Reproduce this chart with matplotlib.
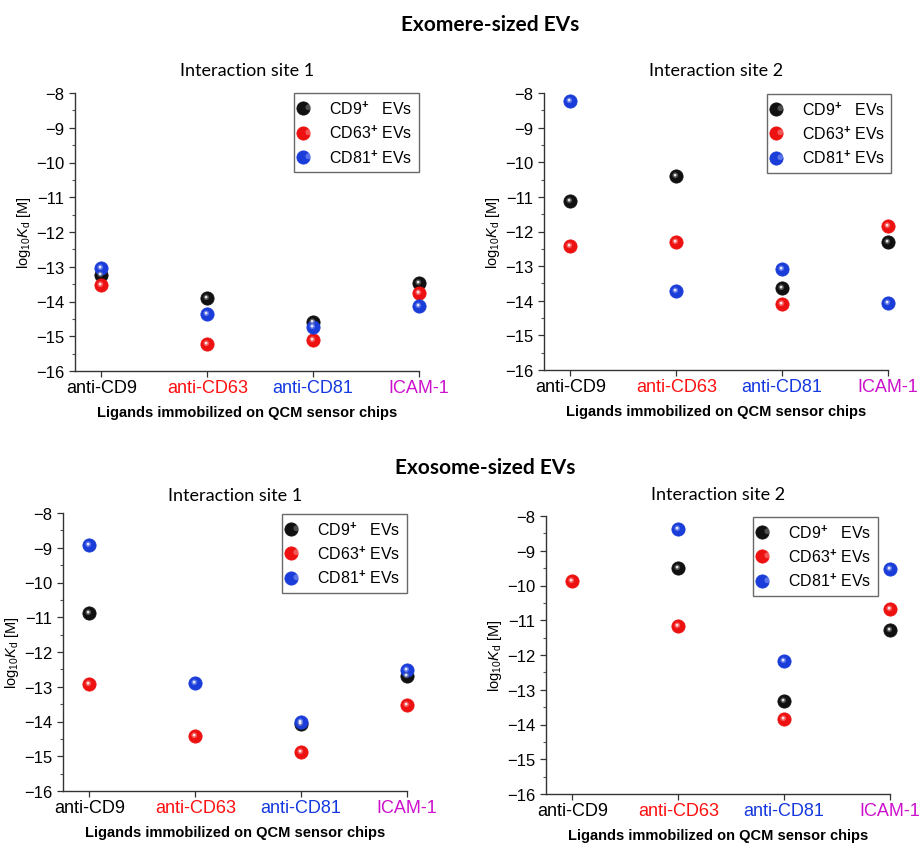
import numpy as np
import matplotlib
matplotlib.use("Agg")
import matplotlib.pyplot as plt
from matplotlib.path import Path
from matplotlib.legend_handler import HandlerTuple
from matplotlib.ticker import MultipleLocator

plt.rcParams['font.family'] = ['Liberation Sans', 'DejaVu Sans']
plt.rcParams['mathtext.fontset'] = 'custom'
plt.rcParams['mathtext.rm'] = 'Liberation Sans'
plt.rcParams['mathtext.it'] = 'Liberation Sans:italic'
plt.rcParams['mathtext.bf'] = 'Liberation Sans:bold'

# ligands on the x axis and their label colours
ligands = ["anti-CD9", "anti-CD63", "anti-CD81", "ICAM-1"]
ligand_colors = ["black", "#ff1010", "#1438e0", "#cc10cc"]

ev_labels = [r"CD9$^{\mathbf{+}}$   EVs", r"CD63$^{\mathbf{+}}$ EVs", r"CD81$^{\mathbf{+}}$ EVs"]
ev_colors = ["#111111", "#ee1111", "#1a3cd8"]
ev_light = ["#9a9a9a", "#ffb0b0", "#a8b8ff"]

# log10 Kd values (NaN = no point)
exomere_site1_cd9 = [-13.25, -13.89, -14.59, -13.48]
exomere_site1_cd63 = [-13.53, -15.21, -15.10, -13.76]
exomere_site1_cd81 = [-13.03, -14.36, -14.73, -14.13]

exomere_site2_cd9 = [-11.13, -10.39, -13.62, -12.31]
exomere_site2_cd63 = [-12.41, -12.29, -14.09, -11.85]
exomere_site2_cd81 = [-8.24, -13.73, -13.08, -14.07]

exosome_site1_cd9 = [-10.88, np.nan, -14.07, -12.70]
exosome_site1_cd63 = [-12.93, -14.43, -14.89, -13.53]
exosome_site1_cd81 = [-8.92, -12.89, -14.02, -12.51]

exosome_site2_cd9 = [np.nan, -9.50, -13.33, -11.27]
exosome_site2_cd63 = [-9.86, -11.17, -13.85, -10.67]
exosome_site2_cd81 = [np.nan, -8.36, -12.16, -9.52]

panels = [
    ("Interaction site 1", [exomere_site1_cd9, exomere_site1_cd63, exomere_site1_cd81]),
    ("Interaction site 2", [exomere_site2_cd9, exomere_site2_cd63, exomere_site2_cd81]),
    ("Interaction site 1", [exosome_site1_cd9, exosome_site1_cd63, exosome_site1_cd81]),
    ("Interaction site 2", [exosome_site2_cd9, exosome_site2_cd63, exosome_site2_cd81]),
]

W, H = 921, 845
# axes boxes in pixels: left, top, right, bottom
boxes = [(75, 94, 419, 372), (544, 94, 888, 371),
         (63, 514, 407, 792), (546, 517, 890, 795)]
title_pads = [13, 13, 9, 12]
# legend upper-right corner in axes fraction
legend_corners = [(1.0, 1.0), (1.01, 0.997), (1.0, 0.997), (0.965, 0.997)]

# small off-centre circles used as the shine on each ball
t = np.linspace(0, 2 * np.pi, 40)
shine = Path(np.column_stack([-1 + np.cos(t), 1 + np.sin(t)]), closed=True)
glow = Path(np.column_stack([-0.6 + 1.4 * np.cos(t), 0.6 + 1.4 * np.sin(t)]), closed=True)

MS = 9.5

fig = plt.figure(figsize=(W / 100, H / 100), dpi=100)

for (title, series), (l, tp, r, b), pad, corner in zip(panels, boxes, title_pads, legend_corners):
    ax = fig.add_axes([l / W, 1 - b / H, (r - l) / W, (b - tp) / H])
    x = np.arange(len(ligands))
    handles = []
    for vals, c, lc in zip(series, ev_colors, ev_light):
        base, = ax.plot(x, vals, ls='none', marker='o', ms=MS, mfc=c, mec=c, mew=0.6,
                        zorder=3, clip_on=False)
        g, = ax.plot(x, vals, ls='none', marker=glow, ms=MS * 0.62, mfc=lc, mec='none',
                     alpha=0.45, zorder=4, clip_on=False)
        s, = ax.plot(x, vals, ls='none', marker=shine, ms=MS * 0.42, mfc='white', mec='none',
                     alpha=0.85, zorder=5, clip_on=False)
        handles.append((base, g, s))

    ax.set_xlim(-0.25, 3)
    ax.set_ylim(-16, -8)
    ax.yaxis.set_major_locator(MultipleLocator(1))
    ax.yaxis.set_minor_locator(MultipleLocator(0.5))
    ax.set_xticks(x)
    ax.set_xticklabels(ligands, fontsize=13)
    ax.tick_params(axis='y', labelsize=12, direction='out', length=4, width=0.9,
                   colors='#333333', labelcolor='black')
    ax.tick_params(axis='y', which='minor', direction='out', length=2.5, width=0.8, colors='#555555')
    ax.tick_params(axis='x', direction='out', length=4, width=0.9, colors='#333333', pad=2)
    for lab, c in zip(ax.get_xticklabels(), ligand_colors):
        lab.set_color(c)
    for sp in ['top', 'right']:
        ax.spines[sp].set_visible(False)
    for sp in ['left', 'bottom']:
        ax.spines[sp].set_color('#333333')
        ax.spines[sp].set_linewidth(1.0)

    ax.set_title(title, fontsize=13, family='Lato', pad=pad)
    ax.set_ylabel(r"log$_{10}$$\mathit{K}$$_{\rm d}$ [M]", fontsize=10.5, labelpad=2)
    ax.set_xlabel("Ligands immobilized on QCM sensor chips", fontsize=10.5, fontweight='bold', labelpad=6)

    leg = ax.legend(handles, ev_labels, handler_map={tuple: HandlerTuple(ndivide=None, pad=0)},
                    loc='upper right', bbox_to_anchor=corner, borderaxespad=0,
                    fontsize=11.5, frameon=True, fancybox=False, handlelength=1.0,
                    handletextpad=0.8, labelspacing=0.45, borderpad=0.4)
    leg.get_frame().set_edgecolor('#444444')
    leg.get_frame().set_linewidth(1.0)

fig.text(490 / W, 1 - 25 / H, "Exomere-sized EVs", ha='center', va='center',
         fontsize=15, fontweight='bold', family='Lato')
fig.text(485 / W, 1 - 468 / H, "Exosome-sized EVs", ha='center', va='center',
         fontsize=15, fontweight='bold', family='Lato')

fig.savefig("out.png", dpi=100)
